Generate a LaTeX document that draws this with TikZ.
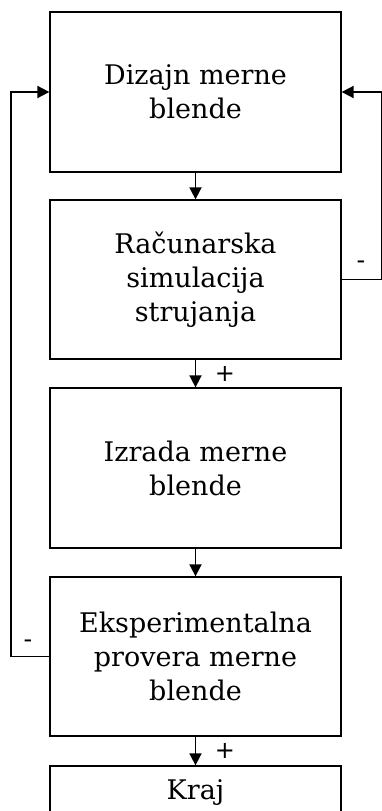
\documentclass[tikz,border=0pt]{standalone}
\usepackage{fontspec}
\setmainfont{DejaVu Serif}
\setsansfont{DejaVu Sans}
\usetikzlibrary{arrows.meta}
\begin{document}
\begin{tikzpicture}[x=1pt,y=-1pt,
  box/.style={draw,line width=1.3pt,minimum width=291pt,align=center,inner sep=0pt,
    font=\fontsize{27}{34}\selectfont},
  arr/.style={line width=1.8pt,-{Triangle[length=12pt,width=12pt]}},
  sign/.style={font=\sffamily\fontsize{24}{24}\selectfont,inner sep=0pt}]
\clip (0,0) rectangle (382,811);
\node[box,minimum height=160pt] (b1) at (195.5,92) {Dizajn merne\\blende};
\node[box,minimum height=159pt] (b2) at (195.5,279.5) {Računarska\\simulacija\\strujanja};
\node[box,minimum height=160pt] (b3) at (195.5,468) {Izrada merne\\blende};
\node[box,minimum height=159pt] (b4) at (195.5,656.5) {Eksperimentalna\\provera merne\\blende};
\node[box,minimum height=54pt] (b5) at (195.5,793) {Kraj};
\draw[arr] (b1.south) -- (b2.north);
\draw[arr] (b2.south) -- (b3.north);
\draw[arr] (b3.south) -- (b4.north);
\draw[arr] (b4.south) -- (b5.north);
\node[sign] (p1) at (225,374) {+};
\node[sign] (p2) at (225,751) {+};
\draw[arr] (b2.east) -- ++(40,0) coordinate (rc) |- (b1.east);
\draw[arr] (b4.west) -- ++(-38,0) coordinate (lc) |- (b1.west);
\node[sign] (m1) at (361,265) {-};
\node[sign] (m2) at (28,644) {-};
\end{tikzpicture}
\end{document}
